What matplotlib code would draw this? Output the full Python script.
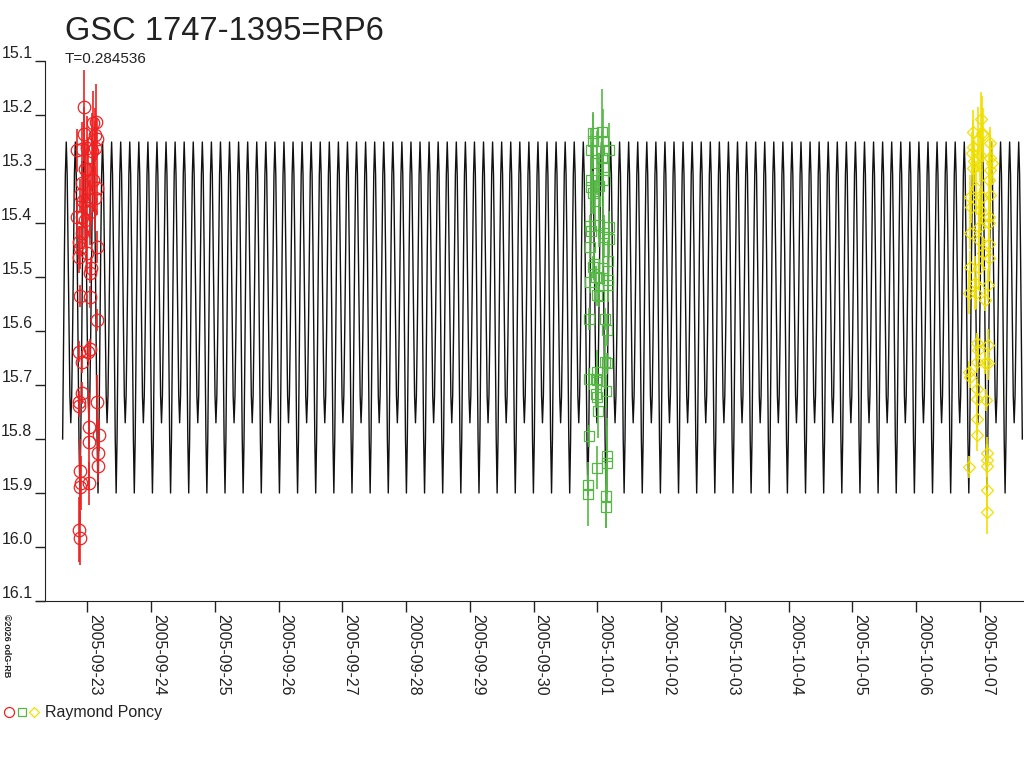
import matplotlib
matplotlib.use('Agg')
import matplotlib.pyplot as plt
import matplotlib.dates as mdates
from matplotlib.legend_handler import HandlerTuple
import numpy as np

plt.rcParams['font.family'] = ['Liberation Sans', 'DejaVu Sans']

# times are JD - 2453600
JD_OFF = 2453600.0
period = 0.284536
epoch = 40.082          # primary minimum
model_span = [36.103, 51.165]

# one cycle of the model light curve (phase, mag)
tpl_phase = [0.00, 0.05, 0.10, 0.15, 0.20, 0.25, 0.30, 0.35, 0.40, 0.45,
             0.50, 0.55, 0.60, 0.65, 0.70, 0.75, 0.80, 0.85, 0.90, 0.95]
tpl_mag = [15.90, 15.80, 15.62, 15.45, 15.31, 15.25, 15.31, 15.45, 15.60, 15.72,
           15.77, 15.72, 15.60, 15.45, 15.31, 15.25, 15.31, 15.45, 15.62, 15.80]

red_t = [36.453, 36.594, 36.636, 36.453, 36.621, 36.647, 36.343, 36.422, 36.491, 36.569,
         36.621, 36.464, 36.516, 36.422, 36.594, 36.647, 36.621, 36.386, 36.437, 36.542,
         36.491, 36.343, 36.412, 36.542, 36.464, 36.412, 36.375, 36.386, 36.491, 36.647,
         36.375, 36.553, 36.542, 36.386, 36.542, 36.657, 36.375, 36.542, 36.516, 36.412,
         36.412, 36.375, 36.375, 36.657, 36.531, 36.531, 36.688, 36.673, 36.673, 36.386,
         36.397, 36.531, 36.386, 36.375, 36.386]
red_mag = [15.186, 15.215, 15.213, 15.235, 15.237, 15.245, 15.265, 15.263, 15.262, 15.266,
           15.262, 15.300, 15.300, 15.325, 15.320, 15.335, 15.354, 15.348, 15.360, 15.358,
           15.372, 15.388, 15.388, 15.380, 15.394, 15.418, 15.436, 15.446, 15.455, 15.444,
           15.463, 15.483, 15.492, 15.535, 15.537, 15.580, 15.638, 15.634, 15.638, 15.657,
           15.715, 15.731, 15.739, 15.731, 15.778, 15.805, 15.793, 15.825, 15.850, 15.860,
           15.882, 15.882, 15.888, 15.968, 15.984]
red_err = [0.07, 0.06, 0.07, 0.05, 0.05, 0.04, 0.04, 0.05, 0.06, 0.07,
           0.05, 0.05, 0.06, 0.04, 0.06, 0.05, 0.06, 0.03, 0.05, 0.07,
           0.05, 0.03, 0.04, 0.06, 0.05, 0.03, 0.03, 0.04, 0.04, 0.03,
           0.03, 0.02, 0.02, 0.02, 0.02, 0.02, 0.02, 0.02, 0.02, 0.02,
           0.02, 0.02, 0.02, 0.05, 0.04, 0.09, 0.03, 0.04, 0.03, 0.06,
           0.05, 0.04, 0.07, 0.06, 0.05]

green_t = [44.426, 44.568, 44.583, 44.687, 44.436, 44.400, 44.568, 44.489, 44.593, 44.583,
           44.400, 44.530, 44.400, 44.426, 44.462, 44.384, 44.530, 44.687, 44.400, 44.583,
           44.687, 44.604, 44.384, 44.447, 44.436, 44.671, 44.593, 44.478, 44.530, 44.384,
           44.671, 44.671, 44.489, 44.530, 44.369, 44.620, 44.656, 44.620, 44.656, 44.499,
           44.369, 44.478, 44.499, 44.631, 44.478, 44.499, 44.504, 44.369, 44.646, 44.646,
           44.499, 44.348, 44.359, 44.631, 44.631]
green_mag = [15.234, 15.231, 15.249, 15.265, 15.249, 15.265, 15.280, 15.289, 15.296, 15.320,
             15.320, 15.331, 15.334, 15.344, 15.360, 15.406, 15.404, 15.408, 15.414, 15.419,
             15.430, 15.425, 15.444, 15.475, 15.481, 15.471, 15.484, 15.500, 15.502, 15.509,
             15.506, 15.515, 15.533, 15.536, 15.578, 15.578, 15.598, 15.658, 15.660, 15.676,
             15.689, 15.689, 15.691, 15.712, 15.717, 15.722, 15.749, 15.794, 15.831, 15.845,
             15.853, 15.886, 15.902, 15.905, 15.925]
green_err = [0.04, 0.08, 0.06, 0.05, 0.05, 0.04, 0.05, 0.06, 0.04, 0.05,
             0.04, 0.06, 0.05, 0.04, 0.04, 0.02, 0.04, 0.03, 0.02, 0.05,
             0.03, 0.04, 0.02, 0.03, 0.02, 0.04, 0.03, 0.02, 0.03, 0.02,
             0.04, 0.03, 0.02, 0.02, 0.02, 0.02, 0.03, 0.05, 0.02, 0.04,
             0.02, 0.02, 0.02, 0.03, 0.02, 0.02, 0.05, 0.02, 0.07, 0.07,
             0.04, 0.02, 0.06, 0.06, 0.04]

yellow_t = [50.512, 50.387, 50.528, 50.553, 50.475, 50.396, 50.658, 50.371, 50.501, 50.658,
            50.407, 50.684, 50.396, 50.658, 50.647, 50.438, 50.344, 50.528, 50.658, 50.355,
            50.501, 50.647, 50.647, 50.490, 50.344, 50.490, 50.647, 50.553, 50.647, 50.344,
            50.490, 50.423, 50.631, 50.333, 50.438, 50.579, 50.449, 50.631, 50.475, 50.449,
            50.579, 50.631, 50.333, 50.344, 50.459, 50.449, 50.595, 50.459, 50.459, 50.616,
            50.606, 50.616, 50.333, 50.606, 50.616]
yellow_mag = [15.208, 15.231, 15.234, 15.237, 15.246, 15.259, 15.252, 15.271, 15.274, 15.280,
              15.286, 15.289, 15.299, 15.302, 15.320, 15.336, 15.351, 15.351, 15.348, 15.370,
              15.376, 15.388, 15.400, 15.407, 15.419, 15.431, 15.438, 15.456, 15.465, 15.481,
              15.484, 15.512, 15.515, 15.529, 15.530, 15.543, 15.623, 15.626, 15.636, 15.657,
              15.659, 15.660, 15.675, 15.685, 15.708, 15.725, 15.728, 15.763, 15.793, 15.826,
              15.839, 15.850, 15.852, 15.894, 15.935]
yellow_err = [0.05, 0.04, 0.07, 0.05, 0.06, 0.05, 0.03, 0.04, 0.05, 0.05,
              0.04, 0.04, 0.04, 0.04, 0.05, 0.05, 0.04, 0.05, 0.05, 0.03,
              0.04, 0.04, 0.03, 0.05, 0.03, 0.05, 0.05, 0.03, 0.04, 0.03,
              0.04, 0.05, 0.03, 0.04, 0.03, 0.02, 0.02, 0.03, 0.02, 0.02,
              0.02, 0.03, 0.02, 0.02, 0.02, 0.02, 0.02, 0.03, 0.03, 0.03,
              0.03, 0.02, 0.02, 0.04, 0.04]

x_range = [35.695, 51.191]
y_range = [16.1, 15.1]


def to_date(t):
    # JD - 2453600 -> matplotlib date number (days since 1970-01-01)
    return np.asarray(t) + JD_OFF - 2440587.5


# build model curve by repeating the one-cycle template
n0 = int(np.floor((model_span[0] - epoch) / period)) - 1
n1 = int(np.ceil((model_span[1] - epoch) / period)) + 1
mt, mm = [], []
for n in range(n0, n1 + 1):
    for ph, m in zip(tpl_phase, tpl_mag):
        t = epoch + (n + ph) * period
        if model_span[0] <= t <= model_span[1]:
            mt.append(t)
            mm.append(m)

fig = plt.figure(figsize=(10.24, 7.68), dpi=100)
ax = fig.add_axes([36 / 1024, 1 - 601 / 768, 988 / 1024, 540 / 768])

ax.plot(to_date(mt), mm, color='#111111', lw=1.0, zorder=2)

series = [
    (red_t, red_mag, red_err, '#ee2222', 'o', 9),
    (green_t, green_mag, green_err, '#55b844', 's', 7),
    (yellow_t, yellow_mag, yellow_err, '#f0e000', 'D', 6.5),
]
handles = []
for t, m, e, c, mk, ms in series:
    ax.errorbar(to_date(t), m, yerr=e, fmt='none', ecolor=c, elinewidth=1.2,
                capsize=0, zorder=3)
    h, = ax.plot(to_date(t), m, linestyle='none', marker=mk, ms=ms,
                 mfc='none', mec=c, mew=0.9, zorder=4)
    handles.append(h)

ax.set_xlim(to_date(x_range[0]), to_date(x_range[1]))
ax.set_ylim(y_range[0], y_range[1])
ax.set_yticks([15.1, 15.2, 15.3, 15.4, 15.5, 15.6, 15.7, 15.8, 15.9, 16.0, 16.1])
ax.yaxis.set_major_formatter(plt.FormatStrFormatter('%.1f'))

ax.xaxis.set_major_locator(mdates.DayLocator())
ax.xaxis.set_major_formatter(mdates.DateFormatter('%Y-%m-%d'))

for s in ['top', 'right']:
    ax.spines[s].set_visible(False)
ax.spines['left'].set_position(('axes', 9 / 988))
ax.spines['left'].set_bounds(15.1, 16.1)
ax.spines['left'].set_color('#222222')
ax.spines['bottom'].set_color('#222222')

ax.tick_params(axis='x', direction='out', length=8, width=1, pad=1,
               labelsize=11.5, colors='#222222')
ax.tick_params(axis='y', direction='out', length=7, width=1, pad=2,
               labelsize=11.5, colors='#222222')
for lab in ax.get_xticklabels():
    lab.set_rotation(-90)
    lab.set_rotation_mode('anchor')
    lab.set_ha('left')
    lab.set_va('bottom')
for lab in ax.get_yticklabels():
    lab.set_va('bottom')

fig.text(65 / 1024, 1 - 40 / 768, 'GSC 1747-1395=RP6', fontsize=23.5,
         color='#222222', va='baseline', ha='left')
fig.text(65 / 1024, 1 - 63 / 768, 'T=0.284536', fontsize=11,
         color='#222222', va='baseline', ha='left')
fig.text(2 / 1024, 1 - 614 / 768, '\u00a92026 odG-RB', fontsize=6.5,
         rotation=-90, va='top', ha='left', color='#222222', fontweight='bold')

# legend: three small markers then the observer name
leg_h = []
for t, m, e, c, mk, ms in series:
    hh, = ax.plot([], [], linestyle='none', marker=mk, ms=ms * 0.8,
                  mfc='none', mec=c, mew=0.9)
    leg_h.append(hh)
ax.legend([tuple(leg_h)], ['Raymond Poncy'],
          handler_map={tuple: HandlerTuple(ndivide=None, pad=0.0)},
          loc='center left', bbox_to_anchor=(0, 1 - 713 / 768),
          bbox_transform=fig.transFigure, frameon=False, fontsize=11.5,
          handlelength=2.3, handletextpad=0.3, borderaxespad=0, borderpad=0.2,
          labelcolor='#222222')

fig.savefig('out.png', dpi=100)
